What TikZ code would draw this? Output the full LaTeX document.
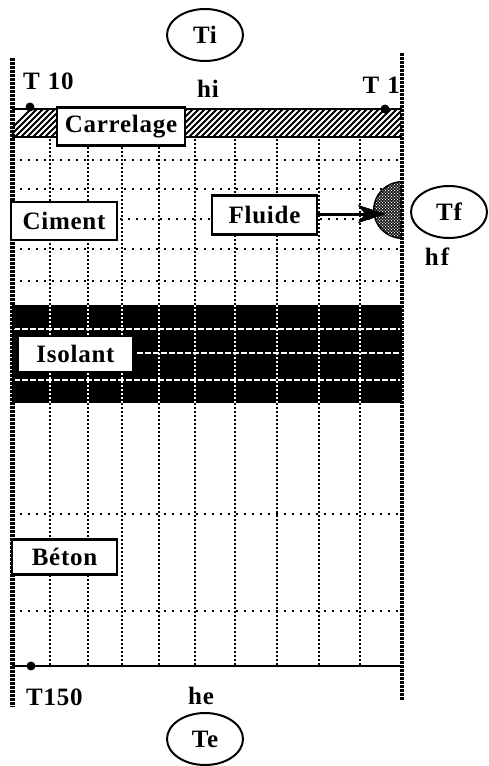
\documentclass[tikz,border=0pt]{standalone}
\usepackage{fontspec}
\setmainfont{Liberation Serif}[LetterSpace=3]
\usetikzlibrary{arrows.meta,shapes.geometric}
\tikzset{
  lbl/.style={font=\fontsize{25}{25}\selectfont\bfseries,inner sep=0pt},
  boxed/.style={lbl,draw=black,line width=2.6pt,fill=white,inner sep=0pt},
  temp/.style={lbl,ellipse,draw=black,line width=2pt,fill=white,minimum width=76pt,minimum height=52pt},
  gridv/.style={line width=2.2pt,dash pattern=on 2.2pt off 1.8pt},
  gridh/.style={line width=2.2pt,dash pattern=on 2.2pt off 5.8pt},
  whited/.style={white,line width=2pt,dash pattern=on 6pt off 2pt},
  wall/.style={line width=4.6pt,dash pattern=on 2.6pt off 1.4pt},
  solid line/.style={line width=2.6pt},
  probe/.style={circle,fill=black,inner sep=0pt,minimum size=9pt}
}
\begin{document}
\begin{tikzpicture}[x=1pt,y=-1pt]
\useasboundingbox (0,0) rectangle (488,766);
\fill[white] (0,0) rectangle (488,766);
% hatched band
\begin{scope}
\clip (12,110) rectangle (402,137);
\foreach \x in {0,6,...,432}{
  \draw[line width=2pt] (\x,140) -- (\x+32,108);
}
\end{scope}
% vertical grid
\foreach \x in {50,88,122,159,195,235,277,319,360}{
  \draw[gridv] (\x,139) -- (\x,666);
}
% horizontal grid
\foreach \y in {160,189,249,281,514,611}{
  \draw[gridh] (20,\y) -- (398,\y);
}
\draw[gridh] (120,219) -- (212,219);
\draw[gridh] (320,219) -- (376,219);
% insulation
\fill[black] (12,305) rectangle (402,403);
\foreach \x in {50,88,122,159,195,235,277,319,360}{
  \draw[white,gridv] (\x,305) -- (\x,403);
}
\foreach \y in {329,380}{\draw[whited] (14,\y) -- (400,\y);}
\draw[whited] (137,353) -- (400,353);
% solid lines
\draw[solid line] (12,109) -- (402,109);
\draw[solid line] (12,137) -- (402,137);
\draw[solid line] (12,666) -- (402,666);
% half disc
\begin{scope}
\clip (360,170) rectangle (402,250);
\fill[black] (402,210) circle (29);
\clip (402,210) circle (27.5);
\foreach \i in {0,...,14}{\foreach \j in {0,...,20}{
  \fill[white] ({372+\i*3},{180+\j*3}) circle (0.75);
  \fill[white] ({373.5+\i*3},{181.5+\j*3}) circle (0.75);
}}
\end{scope}
% walls
\coordinate (wl1) at (12.5,58); \coordinate (wl2) at (12.5,707);
\coordinate (wr1) at (402,53); \coordinate (wr2) at (402,700);
\draw[wall] (wl1) -- (wl2);
\draw[wall] (wr1) -- (wr2);
% nodes
\node[boxed,minimum width=128pt,minimum height=38pt] (carrelage) at (121,126.5) {Carrelage};
\node[boxed,minimum width=106pt,minimum height=38pt] (ciment) at (64,221) {Ciment};
\node[boxed,minimum width=105pt,minimum height=39pt] (fluide) at (264.5,215) {Fluide};
\node[lbl,fill=white,minimum width=113pt,minimum height=34pt] (isolant) at (75.5,354) {Isolant};
\node[boxed,minimum width=105pt,minimum height=35pt] (beton) at (64.5,557) {Béton\hspace{19pt}};
\node[temp] (ti) at (205,35) {Ti};
\node[temp] (tf) at (449,212) {Tf};
\node[temp] (te) at (205,739) {Te};
\coordinate (disc) at (386,214);
\draw[line width=3pt,-{Stealth[length=28pt,width=18pt,inset=7pt]}] (fluide.east |- disc) -- (disc);
% probes
\node[probe] (p10) at (30,107) {};
\node[probe] (p1) at (385,109) {};
\node[probe] (p150) at (31,666) {};
% labels
\node[lbl,anchor=west] (t10) at (23,81) {T\hspace{8pt}10};
\node[lbl,anchor=east] (t1) at (400,85) {T\hspace{8pt}1};
\node[lbl] (hi) at (208,89) {hi};
\node[lbl] (hf) at (437,257) {h\hspace{2pt}f};
\node[lbl,anchor=west] (t150) at (26,697) {T150};
\node[lbl] (he) at (201,696) {he};
\end{tikzpicture}
\end{document}
